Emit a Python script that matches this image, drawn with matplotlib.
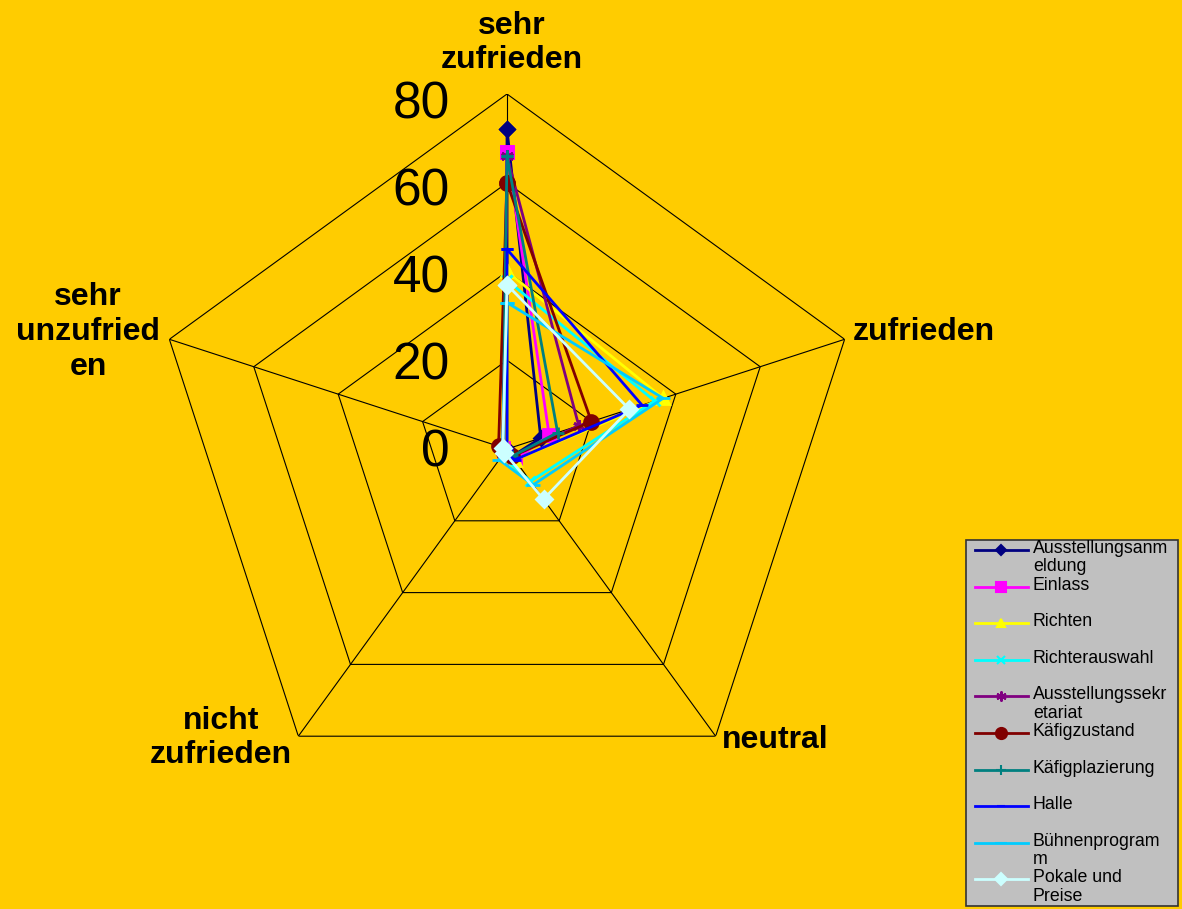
import numpy as np
import matplotlib.pyplot as plt
from matplotlib.lines import Line2D
from matplotlib.patches import Rectangle

plt.rcParams['font.family'] = ['Liberation Sans', 'DejaVu Sans']

# axis categories (clockwise from top)
categories = ['sehr\nzufrieden', 'zufrieden', 'neutral', 'nicht\nzufrieden', 'sehr\nunzufried\nen']
ring_levels = [0, 20, 40, 60, 80]

# values (percent)
anmeldung = [72, 8, 2, 1, 0]
einlass = [67, 10, 3, 1, 1]
richten = [40, 37, 3, 1, 0]
richterauswahl = [38, 35, 9, 2, 1]
sekretariat = [66, 17, 2, 1, 1]
kaefigzustand = [60, 20, 2, 1, 2]
kaefigplazierung = [66, 12, 2, 1, 1]
halle = [45, 32, 3, 1, 0]
buehne = [33, 37, 10, 3, 1]
pokale = [37, 29, 14, 1, 1]

series_names = ['Ausstellungsanm\neldung', 'Einlass', 'Richten', 'Richterauswahl',
                'Ausstellungssekr\netariat', 'Käfigzustand', 'Käfigplazierung', 'Halle',
                'Bühnenprogram\nm', 'Pokale und\nPreise']
series_values = [anmeldung, einlass, richten, richterauswahl, sekretariat,
                 kaefigzustand, kaefigplazierung, halle, buehne, pokale]
colors = ['#000080', '#FF00FF', '#FFFF00', '#00FFFF', '#800080',
          '#800000', '#008080', '#0000FF', '#00CCFF', '#CCFFFF']
markers = ['D', 's', '^', 'x', (6, 2, 0), 'o', '+', '_', '_', 'D']
msizes = [7, 9, 8, 7, 9, 10, 9, 8, 10, 8]

bg = '#FFCC00'
W, H = 1182, 909
fig = plt.figure(figsize=(W / 100, H / 100), dpi=100, facecolor=bg)

cx, cy, R = 507, 449, 355
ax = fig.add_axes([(cx - R) / W, (H - cy - R) / H, 2 * R / W, 2 * R / H], projection='polar')
ax.set_facecolor('none')
ax.set_theta_zero_location('N')
ax.set_theta_direction(-1)
ax.set_ylim(0, 80)
ax.grid(False)
ax.spines['polar'].set_visible(False)
ax.set_xticks([])
ax.set_yticks([])

theta = np.linspace(0, 2 * np.pi, len(categories), endpoint=False)
theta_closed = np.append(theta, theta[0])

# pentagon grid and spokes
for lv in ring_levels[1:]:
    ax.plot(theta_closed, [lv] * len(theta_closed), color='black', lw=0.8, zorder=1)
for t in theta:
    ax.plot([t, t], [0, 80], color='black', lw=0.8, zorder=1)

# radial tick labels
for lv in ring_levels:
    ax.annotate(str(lv), xy=(0, lv), xytext=(-41, -3 - lv * 0.06), textcoords='offset points',
                ha='right', va='center', fontsize=37, color='black', annotation_clip=False)

for name, vals, c, m, ms in zip(series_names, series_values, colors, markers, msizes):
    v = vals + vals[:1]
    ax.plot(theta_closed, v, color=c, lw=2.0, marker=m, markersize=ms,
            markeredgewidth=2, zorder=3, clip_on=False)

# category labels
label_pos = [(512, 43), (924, 332), (775, 740), (221, 738), (88, 332)]
for lab, (px, py) in zip(categories, label_pos):
    fig.text(px / W, 1 - py / H, lab, ha='center', va='center', fontsize=23,
             fontweight='bold', linespacing=1.2)

# legend box (manual, Excel style)
lx0, ly0, lx1, ly1 = 966, 540, 1178, 906
fig.patches.append(Rectangle((lx0 / W, 1 - ly1 / H), (lx1 - lx0) / W, (ly1 - ly0) / H,
                             transform=fig.transFigure, facecolor='#C0C0C0',
                             edgecolor='#333333', lw=1.2, zorder=5))
step = 36.6
for i, (name, c, m, ms) in enumerate(zip(series_names, colors, markers, msizes)):
    yy = 1 - (550 + i * step) / H
    fig.lines.append(Line2D([975 / W, 1028 / W], [yy, yy], transform=fig.transFigure,
                            color=c, lw=2, zorder=6))
    fig.lines.append(Line2D([1001 / W], [yy], transform=fig.transFigure, color=c,
                            marker=m, markersize=ms * 0.8, markeredgewidth=1.5, zorder=7))
    fig.text(1033 / W, yy + 10 / H, name, ha='left', va='top', fontsize=12.8,
             linespacing=1.1, zorder=8)

fig.savefig('out.png', dpi=100, facecolor=bg)
